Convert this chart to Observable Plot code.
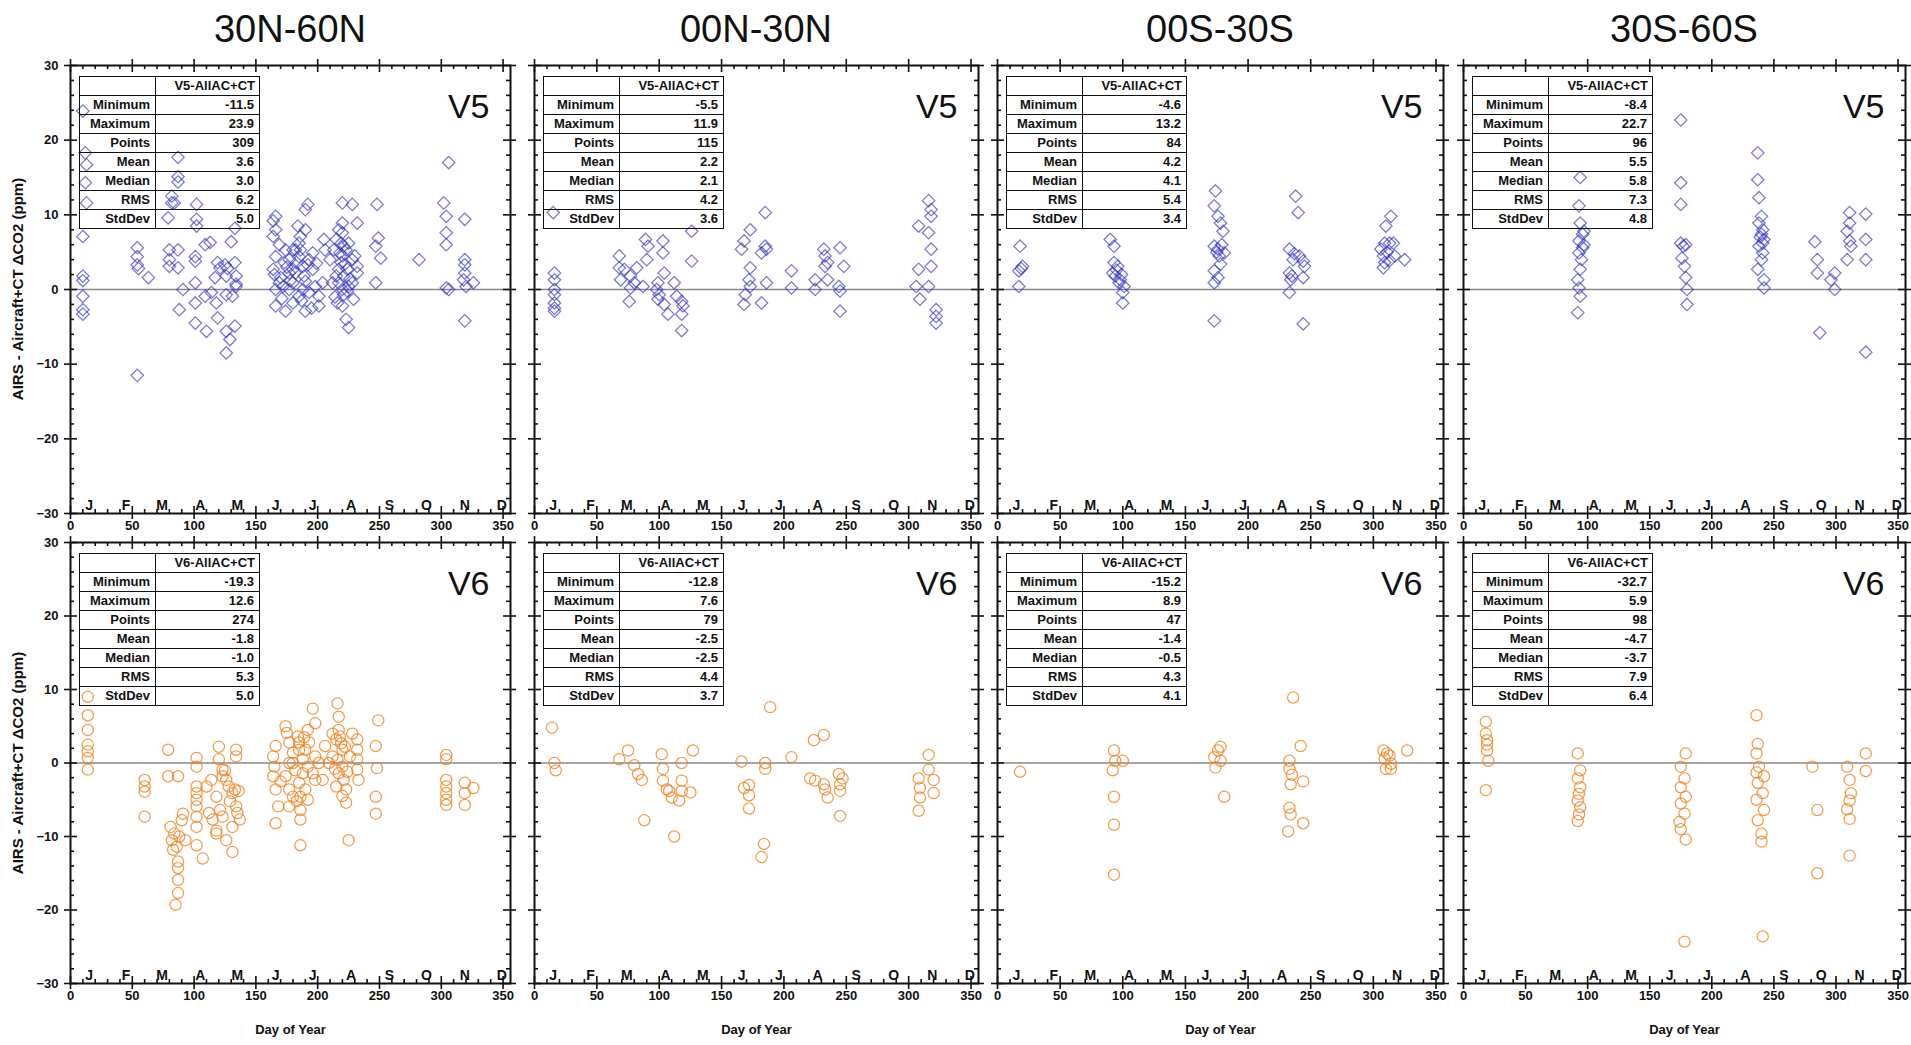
<!DOCTYPE html>
<html>
<head>
<meta charset="utf-8">
<script src="https://cdn.jsdelivr.net/npm/d3@7"></script>
<script src="https://cdn.jsdelivr.net/npm/@observablehq/plot@0.6"></script>
<style>
  body { margin: 0; background: #fff; font-family: "Liberation Sans", Arial, sans-serif; }
  #root { position: relative; width: 1911px; height: 1045px; overflow: hidden; background: #fff; }
  .panel { position: absolute; }
  .title { position: absolute; font-size: 38px; line-height: 38px; white-space: nowrap; transform: translateX(-50%); color: #111; }
  .ylab { position: absolute; font-weight: bold; font-size: 15px; white-space: nowrap; transform: translate(-50%, -50%) rotate(-90deg); color: #111; }
  table.stats { position: absolute; border-collapse: collapse; font: bold 13px "Liberation Sans", Arial, sans-serif; color: #111; table-layout: fixed; }
  table.stats td { border: 1.5px solid #111; padding: 0 5px; text-align: right; height: 18px; line-height: 16px; white-space: nowrap; overflow: hidden; }
  table.stats td.hdr { text-align: right; padding-right: 4px; }
</style>
</head>
<body>
<div id="root"></div>
<script>
// ---------------- data ----------------
const regions = ["30N-60N", "00N-30N", "00S-30S", "30S-60S"];
const statLabels = ["Minimum", "Maximum", "Points", "Mean", "Median", "RMS", "StdDev"];
const monthLetters = ["J", "F", "M", "A", "M", "J", "J", "A", "S", "O", "N", "D"];
const monthMid = [15, 45, 74, 105, 135, 166, 196, 227, 258, 288, 319, 349];
const xTicks = [0, 50, 100, 150, 200, 250, 300, 350];
const yTicks = [-30, -20, -10, 0, 10, 20, 30];

const v5Stats_30N60N = ["-11.5", "23.9", "309", "3.6", "3.0", "6.2", "5.0"];
const v5Stats_00N30N = ["-5.5", "11.9", "115", "2.2", "2.1", "4.2", "3.6"];
const v5Stats_00S30S = ["-4.6", "13.2", "84", "4.2", "4.1", "5.4", "3.4"];
const v5Stats_30S60S = ["-8.4", "22.7", "96", "5.5", "5.8", "7.3", "4.8"];
const v6Stats_30N60N = ["-19.3", "12.6", "274", "-1.8", "-1.0", "5.3", "5.0"];
const v6Stats_00N30N = ["-12.8", "7.6", "79", "-2.5", "-2.5", "4.4", "3.7"];
const v6Stats_00S30S = ["-15.2", "8.9", "47", "-1.4", "-0.5", "4.3", "4.1"];
const v6Stats_30S60S = ["-32.7", "5.9", "98", "-4.7", "-3.7", "7.9", "6.4"];

// [day of year, AIRS - Aircraft+CT dCO2 (ppm)]
const v5_30N60N = [
  [10,23.9],[12,18.3],[13,16.7],[12,14.3],[13,11.6],[10,7.1],[10,1.8],[10,1.2],[10,-0.9],[10,-2.7],[10,-3.3],
  [54,5.6],[54,4.4],[54,3.3],[55,2.8],[63,1.6],[54,-11.5],
  [80,5.3],[87,5.3],[80,4.0],[87,2.9],[80,3.1],[84,11.6],[82,12.5],[87,17.7],[87,15.1],[87,14.4],[82,11.6],[79,9.6],[88,-2.7],[91,0],
  [101,4.4],[101,3.8],[101,0.9],[101,-1.8],[101,-4.5],[109,-0.9],[110,-5.6],[109,6.0],[102,11.4],[102,9.4],[102,8.5],[113,6.3],
  [119,3.6],[125,3.3],[127,2.8],[133,3.6],[134,1.8],[134,0.7],[126,-0.7],[119,-3.8],[126,-5.6],[129,-6.7],[126,-8.5],[133,-4.9],[134,0.4],[114,-0.4],[117,1.6],[130,6.4],[133,8.2],[121,2.9],[126,1.8],[118,-1.8],[131,-0.9],
  [166,9.8],[164,9.2],[166,8.0],[164,7.1],[169,6.0],[166,4.4],[164,2.7],[165,2.0],[169,0.9],[166,0],[166,-2.2],[174,-2.9],[173,3.6],[177,4.0],[180,2.7],[180,0.9],[177,0],[180,-1.8],[185,6.2],[186,7.1],[190,8.0],[190,10.7],[192,11.4],[185,4.4],[188,3.1],[192,3.3],[193,4.0],[196,2.7],[190,1.1],[188,0],[185,-0.9],[201,-0.9],[201,-2.2],[190,-2.9],[182,5.3],[174,5.3],[170,1.6],[180,5.3],[196,4.9],[205,6.7],[206,5.3],[198,0.4],[193,-0.4],[182,2.2],[186,5.3],[183,3.6],[189,1.8],[177,2.2],[172,0.4],[175,3.0],[178,1.2],[187,-1.5],[195,-2.5],[184,8.5],[199,3.5],[171,-1.2],
  [220,11.6],[228,11.4],[220,8.9],[217,8.0],[215,6.7],[221,5.8],[223,5.3],[220,4.5],[219,3.6],[217,2.7],[215,1.8],[217,0.9],[220,0],[221,-0.7],[224,-0.2],[216,-1.8],[220,-2.2],[223,-4.0],[225,-5.1],[228,4.0],[230,4.5],[232,3.1],[232,2.2],[228,0.9],[225,0.4],[210,4.0],[212,0.9],[213,5.3],[232,8.9],[204,0.9],[224,2.7],[221,1.8],[219,6.2],[220,7.6],[225,6.2],[218,4.9],[222,3.4],[226,1.4],[214,-1.0],[229,-1.3],
  [248,11.4],[249,6.9],[247,5.8],[251,4.2],[247,0.9],
  [282,4.0],
  [306,17.0],[302,11.6],[304,9.8],[304,7.6],[304,6.0],[304,0.2],[306,0],[319,9.4],[319,4.0],[319,3.3],[319,2.2],[318,1.3],[320,0.4],[326,0.9],[319,-4.2]
];
const v5_00N30N = [
  [15,10.3],[16,2.2],[16,1.3],[16,0],[16,-0.7],[16,-1.8],[16,-2.5],[16,-2.9],
  [68,4.5],[68,2.9],[72,2.7],[69,1.3],[77,1.8],[77,0.2],[76,-1.6],[82,2.9],[80,0.9],[89,6.7],[91,5.8],[90,4.0],[87,0.4],
  [103,6.5],[103,4.9],[104,2.2],[99,0.9],[98,0],[100,-0.7],[99,-1.3],[104,-2.0],[107,-3.3],[112,0.9],
  [114,-0.9],[118,-1.6],[119,-2.2],[118,-3.3],[118,-5.5],[126,7.8],[126,3.8],
  [166,5.4],[168,6.5],[173,8.0],[173,2.9],[172,1.3],[173,0.4],[169,-0.7],[168,-2.0],
  [185,10.3],[185,5.8],[186,5.4],[182,4.9],[186,0.9],[182,-1.8],
  [206,2.5],[206,0.2],
  [225,1.3],[225,0],[232,5.4],[233,4.5],[233,3.1],[235,3.6],[235,1.3],[245,5.6],[248,3.1],[244,0.4],[245,-0.2],[245,-2.9],
  [308,8.5],[308,2.7],[306,0.4],[309,-1.3],[316,11.9],[318,10.7],[318,9.8],[316,7.6],[318,5.4],[318,3.1],[316,0.4],[322,-2.7],[322,-3.6],[322,-4.5]
];
const v5_00S30S = [
  [18,5.8],[20,3.1],[17,2.5],[17,0.4],[19,2.8],
  [90,6.7],[93,5.8],[93,3.6],[96,3.1],[92,2.2],[94,1.8],[98,1.3],[97,0.9],[100,-0.4],[100,-1.8],[101,0.4],[95,2.6],[99,2.0],
  [174,13.2],[173,11.2],[176,9.8],[178,8.9],[180,7.8],[173,5.8],[176,5.4],[181,4.9],[177,4.5],[178,3.4],[173,2.5],[176,1.6],[173,0.9],[173,-4.2],[175,5.0],[179,6.0],
  [238,12.5],[240,10.3],[233,5.4],[236,4.0],[241,4.5],[244,3.8],[245,3.1],[233,2.2],[234,1.3],[233,-0.4],[244,1.6],[244,-4.6],[235,1.8],[237,4.8],
  [314,9.8],[310,8.5],[309,6.2],[313,6.2],[316,6.2],[306,5.4],[308,4.5],[309,3.6],[308,2.9],[317,4.5],[325,4.0],[311,5.0],[313,3.9]
];
const v5_30S60S = [
  [94,15.0],[93,11.2],[94,8.9],[97,7.8],[96,7.4],[93,6.5],[96,5.6],[93,4.9],[94,2.7],[92,1.3],[93,0.2],[94,-0.9],[92,-3.1],[95,4.0],[97,6.0],
  [175,22.7],[175,14.3],[175,11.4],[175,6.2],[179,6.0],[178,3.1],[179,1.6],[180,0],[180,-2.0],[177,5.8],[176,4.2],
  [237,18.3],[237,14.7],[238,12.3],[240,9.8],[238,8.9],[241,8.0],[240,7.4],[242,6.7],[238,5.8],[241,4.9],[240,4.0],[237,2.7],[242,1.3],[242,0.2],[239,7.0],[241,6.2],
  [283,6.4],[285,4.0],[285,2.2],[296,1.3],[299,2.2],[299,0],[287,-5.8],
  [311,10.3],[311,8.9],[309,7.8],[311,6.5],[312,5.8],[309,4.0],[324,10.1],[324,6.7],[324,4.0],[324,-8.4]
];
const v6_30N60N = [
  [14,9.0],[14,6.5],[14,4.5],[14,2.5],[14,1.6],[14,0.7],[14,-0.9],
  [60,-2.3],[60,-3.2],[60,-3.9],[60,-7.3],
  [79,1.8],[79,-1.8],[87,-1.8],
  [81,-8.7],[84,-9.6],[88,-10.0],[91,-6.9],[82,-10.5],[86,-11.4],[87,-13.4],[87,-14.3],[87,-15.9],[87,-17.7],[85,-19.3],[90,-7.8],[93,-10.5],[83,-11.8],
  [102,0.7],[102,-0.5],[102,-3.2],[102,-4.1],[102,-5.0],[102,-5.9],[102,-7.3],[102,-8.7],[102,-11.2],[107,-13.0],[110,-3.2],
  [114,-2.3],[118,-4.6],[120,2.2],[120,0.5],[123,-0.9],[123,-1.8],[126,-2.3],[128,-3.2],[131,-4.1],[133,-3.6],[134,1.8],[134,0.9],[134,-5.9],[135,-6.8],[137,-7.7],[131,-8.7],[126,-10.5],[118,-9.2],[115,-7.7],[112,-6.8],[121,-6.4],[123,-7.3],[131,-12.1],[118,-9.6],[125,-1.0],[129,-5.2],[136,-3.8],
  [164,0.9],[166,2.3],[165,-0.5],[164,-1.8],[166,-3.6],[168,-5.9],[166,-8.2],[174,5.0],[175,4.1],[177,2.8],[180,1.4],[177,0],[174,-1.8],[177,-3.6],[177,-5.9],[180,-4.6],[184,3.6],[185,2.8],[185,1.8],[188,0.5],[188,-1.4],[185,-2.7],[186,-4.6],[186,-6.4],[186,-7.7],[186,-11.2],[192,4.5],[193,2.8],[190,1.8],[196,7.4],[198,5.4],[192,-0.5],[196,-1.4],[190,-3.6],[192,-5.0],[198,0.9],[198,-2.3],[204,-2.3],[201,0],[180,0],[170,-2.5],[182,-1.0],[189,3.5],[183,-5.2],
  [216,8.1],[217,6.3],[217,4.5],[212,4.0],[215,3.2],[219,2.7],[220,1.8],[212,0.9],[216,0.4],[220,-0.5],[217,-1.4],[221,-2.3],[215,-3.2],[223,-3.6],[220,-4.5],[223,-5.4],[225,-10.5],[228,4.0],[232,3.2],[232,1.8],[232,0.5],[232,-0.9],[233,-2.3],[226,0.9],[209,0],[206,2.3],[218,3.6],[222,2.2],[224,-1.2],[214,-0.8],
  [249,5.8],[247,2.3],[248,-0.7],[247,-4.6],[247,-6.9],
  [304,1.1],[304,0.5],[304,-2.3],[304,-3.2],[304,-4.1],[304,-5.0],[304,-5.7],[319,-2.7],[319,-4.1],[319,-5.7],[326,-3.4]
];
const v6_00N30N = [
  [14,4.8],[16,0],[17,-1.0],
  [68,0.5],[75,1.7],[80,-0.3],[83,-1.5],[86,-2.3],[88,-7.8],
  [102,1.2],[103,-0.8],[103,-2.4],[106,-3.6],[108,-3.8],[110,-4.7],[118,0],[118,-2.4],[118,-3.8],[116,-5.1],[125,-4.0],[112,-10.0],[127,1.7],
  [166,0.2],[168,-3.4],[172,-3.0],[172,-4.4],[172,-6.2],[185,0],[185,-0.8],[184,-11.0],[182,-12.8],[189,7.6],
  [206,0.8],
  [224,3.1],[232,3.8],[221,-2.1],[225,-2.4],[232,-2.9],[233,-3.6],[235,-4.7],[244,-1.5],[245,-2.9],[245,-3.8],[247,-2.1],[245,-7.2],
  [308,-2.1],[309,-3.4],[309,-4.7],[308,-6.5],[316,1.1],[316,-0.9],[320,-2.3],[320,-4.1]
];
const v6_00S30S = [
  [18,-1.2],[93,1.7],[94,0.3],[92,-1.0],[100,0.3],[93,-4.6],[93,-8.4],[93,-15.2],
  [176,1.7],[173,0.8],[178,0.3],[174,-0.6],[181,-4.6],[178,2.2],
  [236,8.9],[242,2.3],[233,0.3],[233,-0.8],[234,-2.9],[244,-2.5],[233,-6.1],[234,-7.0],[244,-8.2],[232,-9.3],[235,-1.6],
  [308,1.7],[309,0.6],[313,1.0],[314,-0.1],[314,-0.8],[327,1.7],[310,-0.8],[311,1.3]
];
const v6_30S60S = [
  [18,5.6],[18,4.0],[19,3.1],[19,1.7],[20,0.3],[18,-3.7],[19,2.5],
  [92,1.3],[94,-1.0],[92,-2.1],[94,-3.3],[93,-4.2],[92,-5.1],[94,-6.0],[93,-7.0],[92,-7.9],
  [179,1.3],[175,-0.5],[178,-2.1],[175,-3.3],[179,-4.6],[175,-5.5],[178,-6.9],[174,-8.0],[175,-9.0],[179,-10.4],[178,-24.3],
  [236,6.5],[237,2.6],[236,1.3],[238,-0.5],[236,-1.3],[242,-1.8],[237,-2.7],[241,-4.1],[236,-5.0],[242,-6.4],[237,-7.8],[240,-9.6],[240,-10.7],[241,-23.6],
  [281,-0.5],[285,-6.4],[285,-15.0],
  [309,-0.5],[311,-2.3],[312,-4.1],[311,-5.1],[309,-6.3],[311,-7.6],[311,-12.6],[324,-1.1],[324,1.3]
];

// ---------------- layout ----------------
const colLeft = [70, 534, 997, 1463];
const colWidth = [440, 444, 446, 442];
const rowTop = [65, 542];
const rowHeight = [448, 441];
const yLabelText = "AIRS - Aircraft+CT \u0394CO2  (ppm)";

const panels = [
  {row: 0, col: 0, version: "V5", points: v5_30N60N, stats: v5Stats_30N60N},
  {row: 0, col: 1, version: "V5", points: v5_00N30N, stats: v5Stats_00N30N},
  {row: 0, col: 2, version: "V5", points: v5_00S30S, stats: v5Stats_00S30S},
  {row: 0, col: 3, version: "V5", points: v5_30S60S, stats: v5Stats_30S60S},
  {row: 1, col: 0, version: "V6", points: v6_30N60N, stats: v6Stats_30N60N},
  {row: 1, col: 1, version: "V6", points: v6_00N30N, stats: v6Stats_00N30N},
  {row: 1, col: 2, version: "V6", points: v6_00S30S, stats: v6Stats_00S30S},
  {row: 1, col: 3, version: "V6", points: v6_30S60S, stats: v6Stats_30S60S}
];

const root = document.getElementById("root");
const FONT = "'Liberation Sans', Arial, sans-serif";

function makePanel(p) {
  const fw = colWidth[p.col], fh = rowHeight[p.row];
  const mL = p.col === 0 ? 70 : 14, mR = 14, mT = 14, mB = p.row === 0 ? 26 : 64;
  const width = mL + fw + mR, height = mT + fh + mB;
  const minorX = d3.range(10, 356, 10).filter(d => d % 50 !== 0);
  const minorY = d3.range(-28, 30, 2).filter(d => d % 10 !== 0);
  const isV5 = p.version === "V5";
  const tk = {stroke: "#111", strokeWidth: 1.6};
  const marks = [
    Plot.ruleY([0], {stroke: "#888", strokeWidth: 1.6}),
    Plot.dot(p.points, {
      x: d => d[0], y: d => d[1],
      symbol: isV5 ? "diamond2" : "circle",
      r: 5.6,
      stroke: isV5 ? "#3030c4" : "#f0821f",
      strokeOpacity: isV5 ? 0.65 : 0.8,
      strokeWidth: 1.25,
      fill: "none"
    }),
    Plot.text(monthLetters, {x: monthMid, text: d => d, frameAnchor: "bottom", lineAnchor: "bottom", dy: -4, fontSize: 14, fontWeight: "bold", fill: "#111"}),
    Plot.tickX(xTicks, {x: d => d, insetTop: -6, insetBottom: fh - 7, ...tk}),
    Plot.tickX(xTicks, {x: d => d, insetTop: fh - 7, insetBottom: -6, ...tk}),
    Plot.tickX(minorX, {x: d => d, insetBottom: fh - 4, ...tk}),
    Plot.tickX(minorX, {x: d => d, insetTop: fh - 4, ...tk}),
    Plot.tickY(yTicks, {y: d => d, insetLeft: -6, insetRight: fw - 7, ...tk}),
    Plot.tickY(yTicks, {y: d => d, insetLeft: fw - 7, insetRight: -6, ...tk}),
    Plot.tickY(minorY, {y: d => d, insetRight: fw - 4, ...tk}),
    Plot.tickY(minorY, {y: d => d, insetLeft: fw - 4, ...tk}),
    Plot.frame({stroke: "#111", strokeWidth: 2}),
    Plot.text([p.version], {frameAnchor: "top-right", text: d => d, fontSize: 34, fontWeight: "normal", dx: -21, dy: 28, lineAnchor: "top", fill: "#111"}),
    Plot.axisX({
      ticks: xTicks, tickSize: 0, tickPadding: 7, fontSize: 13, fontWeight: "bold",
      label: p.row === 1 ? "Day of Year" : null, labelAnchor: "center", labelOffset: 50, labelArrow: "none"
    })
  ];
  if (p.col === 0) {
    marks.push(Plot.axisY({ticks: yTicks, tickSize: 0, tickPadding: 12, fontSize: 13, fontWeight: "bold", label: null}));
  }
  const svg = Plot.plot({
    width, height,
    marginLeft: mL, marginRight: mR, marginTop: mT, marginBottom: mB,
    x: {domain: [0, 356]},
    y: {domain: [-30, 30], axis: p.col === 0 ? undefined : null},
    style: {fontFamily: FONT, background: "transparent", overflow: "visible", color: "#111"},
    marks
  });
  const div = document.createElement("div");
  div.className = "panel";
  div.style.left = (colLeft[p.col] - mL) + "px";
  div.style.top = (rowTop[p.row] - mT) + "px";
  div.style.width = width + "px";
  div.style.height = height + "px";
  div.appendChild(svg);
  root.appendChild(div);

  // statistics table (legend box)
  const table = document.createElement("table");
  table.className = "stats";
  table.style.left = (colLeft[p.col] + 9) + "px";
  table.style.top = (rowTop[p.row] + 11) + "px";
  table.style.width = "180px";
  let html = `<colgroup><col style="width:76px"><col style="width:104px"></colgroup>`;
  html += `<tr><td></td><td class="hdr">${p.version}-AllAC+CT</td></tr>`;
  statLabels.forEach((lab, i) => {
    html += `<tr><td>${lab}</td><td>${p.stats[i]}</td></tr>`;
  });
  table.innerHTML = html;
  root.appendChild(table);
}

panels.forEach(makePanel);

// column titles
regions.forEach((name, c) => {
  const t = document.createElement("div");
  t.className = "title";
  t.textContent = name;
  t.style.left = (colLeft[c] + colWidth[c] / 2) + "px";
  t.style.top = "10px";
  root.appendChild(t);
});

// y-axis titles (one per row)
rowTop.forEach((top, r) => {
  const l = document.createElement("div");
  l.className = "ylab";
  l.textContent = yLabelText;
  l.style.left = "17px";
  l.style.top = (top + rowHeight[r] / 2) + "px";
  root.appendChild(l);
});
</script>
</body>
</html>
